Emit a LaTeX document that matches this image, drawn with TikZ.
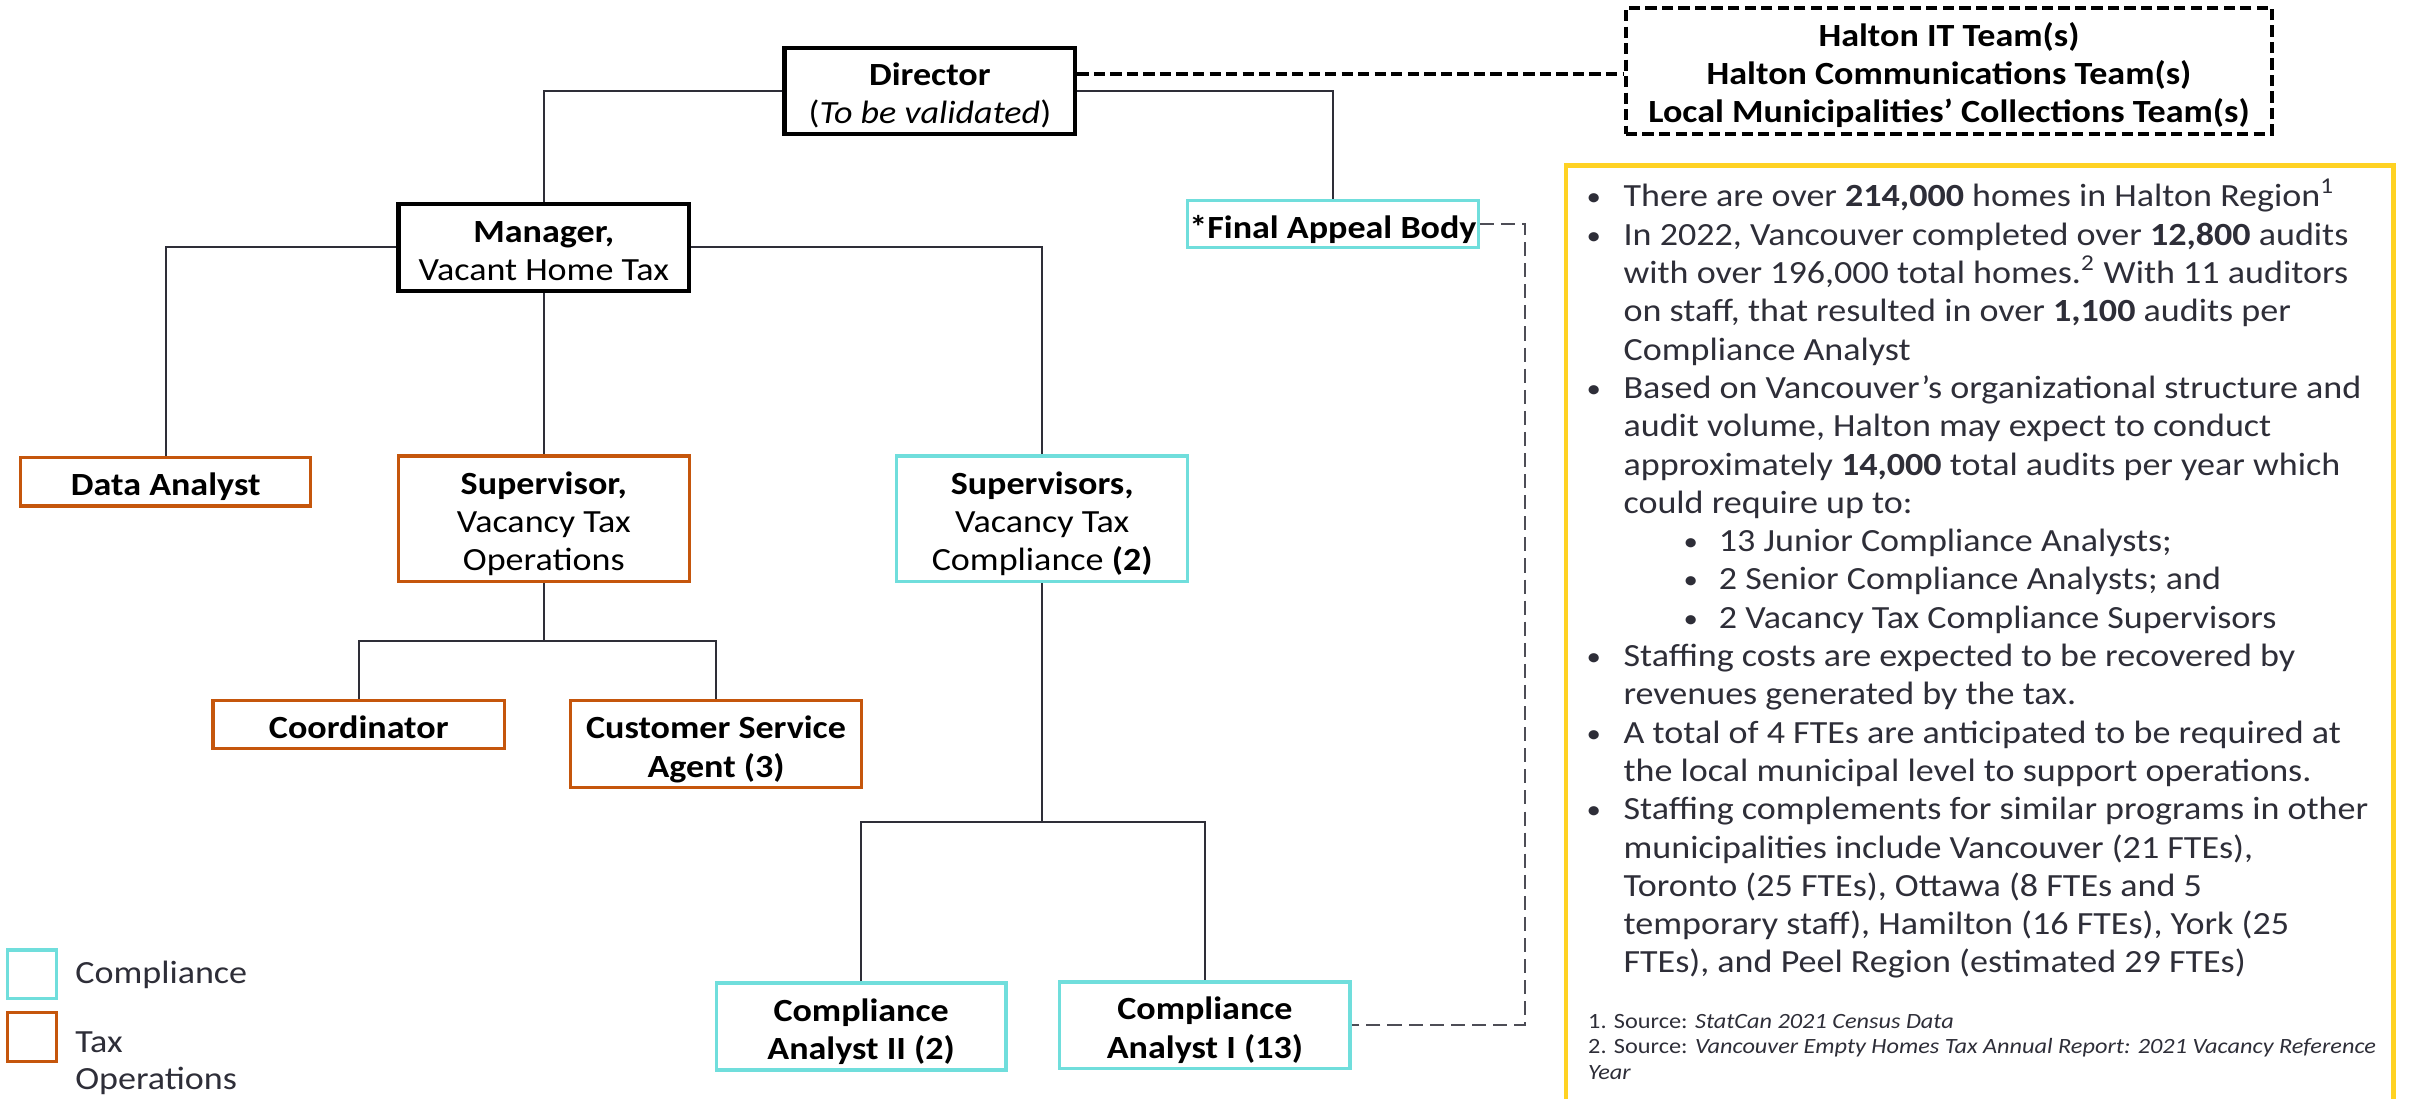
\documentclass[tikz,border=0pt]{standalone}
\usepackage{fontspec}
\usepackage{graphicx}
\setmainfont[FakeStretch=1.115]{Carlito}
\usetikzlibrary{calc}
\definecolor{cyanb}{RGB}{112,222,220}
\definecolor{orangeb}{RGB}{197,86,12}
\definecolor{yellowb}{RGB}{255,210,35}
\definecolor{txt}{RGB}{46,46,56}
\definecolor{connc}{RGB}{46,46,56}
\newdimen\uu \uu=0.15383mm
\newcommand{\bodyfont}{\fontsize{9.2}{10.9}\selectfont}
\newcommand{\notefont}{\fontsize{6.2}{8}\selectfont}
\newcommand{\bx}[1]{\raisebox{-4pt}[0pt][0pt]{\begin{tabular}{@{}c@{}}#1\end{tabular}}}
\newcommand{\bul}{\raisebox{0.3pt}{\scalebox{0.8}{•}}}
\begin{document}
\begin{tikzpicture}[x=0.15383mm, y=-0.15383mm,
  box/.style={draw, line width=0.9pt, inner sep=0pt, font=\bodyfont, text=black, fill=white},
  blackbox/.style={box, draw=black, line width=1.2pt},
  cbox/.style={box, draw=cyanb},
  obox/.style={box, draw=orangeb},
  connline/.style={draw=connc, line width=0.5pt},
  thickdash/.style={draw=black, line width=1.1pt, dash pattern=on 3.2pt off 1.5pt},
  thindash/.style={draw=connc!85, line width=0.5pt, dash pattern=on 4pt off 2pt},
  bl/.style={anchor=base west, inner sep=0pt, font=\bodyfont, text=txt},
  nl/.style={anchor=base west, inner sep=0pt, font=\notefont, text=txt},
]
\useasboundingbox (0,0) rectangle (1568,714);

% ---- boxes ----
\node[blackbox, minimum width=189\uu, minimum height=56\uu] (dir) at (604.5,59)
  {\bx{\textbf{Director}\\(\textit{To be validated})}};
\node[box, thickdash, minimum width=420\uu, minimum height=82\uu] (hal) at (1267,46)
  {\bx{\textbf{Halton IT Team(s)}\\\textbf{Halton Communications Team(s)}\\\textbf{Local Municipalities’ Collections Team(s)}}};
\node[cbox, minimum width=189\uu, minimum height=30.5\uu] (fab) at (866.5,145.75)
  {\bx{\textbf{*Final Appeal Body}}};
\node[blackbox, minimum width=189\uu, minimum height=56.4\uu] (mgr) at (353.5,160.8)
  {\bx{\textbf{Manager,}\\Vacant Home Tax}};
\node[obox, minimum width=188.6\uu, minimum height=31.5\uu] (da) at (107.7,313.2)
  {\bx{\textbf{Data Analyst}}};
\node[obox, minimum width=189\uu, minimum height=81.6\uu] (sops) at (353.5,337.2)
  {\bx{\textbf{Supervisor,}\\Vacancy Tax\\Operations}};
\node[cbox, minimum width=189\uu, minimum height=81.6\uu] (scomp) at (677.5,337.2)
  {\bx{\textbf{Supervisors,}\\Vacancy Tax\\Compliance \textbf{(2)}}};
\node[obox, minimum width=189.5\uu, minimum height=31.2\uu] (coord) at (233.2,471)
  {\bx{\textbf{Coordinator}}};
\node[obox, minimum width=189\uu, minimum height=56.5\uu] (csa) at (465.5,483.7)
  {\bx{\textbf{Customer Service}\\\textbf{Agent (3)}}};
\node[cbox, minimum width=188.4\uu, minimum height=56.6\uu] (ca2) at (559.8,667.3)
  {\bx{\textbf{Compliance}\\\textbf{Analyst II (2)}}};
\node[cbox, minimum width=188.7\uu, minimum height=56.3\uu] (ca1) at (783.3,666.5)
  {\bx{\textbf{Compliance}\\\textbf{Analyst I (13)}}};

% ---- connectors ----
\draw[connline] (dir.west) -| (mgr.north);
\draw[connline] (dir.east) -| (fab.north);
\coordinate (d1) at ($(dir.east)+(0,-11)$);
\draw[thickdash] (d1) -- (d1 -| hal.west);
\draw[connline] (mgr.west) -| (da.north);
\draw[connline] (mgr.east) -| (scomp.north);
\draw[connline] (mgr.south) -- (sops.north);
\coordinate (b1) at (353.5,416.7);
\draw[connline] (sops.south) -- (b1);
\draw[connline] (coord.north) |- (b1) -| (csa.north);
\coordinate (b2) at (677.5,534.3);
\draw[connline] (scomp.south) -- (b2);
\draw[connline] (ca2.north) |- (b2) -| (ca1.north);
\coordinate (dv) at (991.5,0);
\draw[thindash] (fab.east) -- (fab.east -| dv) |- (ca1.east);

% ---- legend ----
\draw[draw=cyanb, line width=0.9pt] (5,617.6) rectangle (37,649);
\draw[draw=orangeb, line width=0.9pt] (5,658) rectangle (37,690);
\node[bl] (lg1) at (48.5,639.5) {Compliance};
\node[bl] (lg2) at (48.5,684) {Tax};
\node[bl] (lg3) at (48.5,708) {Operations};

% ---- info panel ----
\draw[draw=yellowb, line width=1.3pt] (1018,725) -- (1018,107.5) -- (1556,107.5) -- (1556,725);

\node[bl] (bu1) at (1031,134.5) {\bul};
\node[bl] (t1) at (1055,134.5) {There are over \textbf{214,000} homes in Halton Region\textsuperscript{1}};
\node[bl] (bu2) at (1031,159.4) {\bul};
\node[bl] (t2) at (1055,159.4) {In 2022, Vancouver completed over \textbf{12,800} audits};
\node[bl] (t3) at (1055,184.3) {with over 196,000 total homes.\textsuperscript{2} With 11 auditors};
\node[bl] (t4) at (1055,209.2) {on staff, that resulted in over \textbf{1,100} audits per};
\node[bl] (t5) at (1055,234.1) {Compliance Analyst};
\node[bl] (bu3) at (1031,259) {\bul};
\node[bl] (t6) at (1055,259) {Based on Vancouver’s organizational structure and};
\node[bl] (t7) at (1055,283.9) {audit volume, Halton may expect to conduct};
\node[bl] (t8) at (1055,308.8) {approximately \textbf{14,000} total audits per year which};
\node[bl] (t9) at (1055,333.7) {could require up to:};
\node[bl] (bu4) at (1094,358.6) {\bul};
\node[bl] (t10) at (1117,358.6) {13 Junior Compliance Analysts;};
\node[bl] (bu5) at (1094,383.5) {\bul};
\node[bl] (t11) at (1117,383.5) {2 Senior Compliance Analysts; and};
\node[bl] (bu6) at (1094,408.4) {\bul};
\node[bl] (t12) at (1117,408.4) {2 Vacancy Tax Compliance Supervisors};
\node[bl] (bu7) at (1031,433.3) {\bul};
\node[bl] (t13) at (1055,433.3) {Staffing costs are expected to be recovered by};
\node[bl] (t14) at (1055,458.2) {revenues generated by the tax.};
\node[bl] (bu8) at (1031,483.1) {\bul};
\node[bl] (t15) at (1055,483.1) {A total of 4 FTEs are anticipated to be required at};
\node[bl] (t16) at (1055,508) {the local municipal level to support operations.};
\node[bl] (bu9) at (1031,532.9) {\bul};
\node[bl] (t17) at (1055,532.9) {Staffing complements for similar programs in other};
\node[bl] (t18) at (1055,557.8) {municipalities include Vancouver (21 FTEs),};
\node[bl] (t19) at (1055,582.7) {Toronto (25 FTEs), Ottawa (8 FTEs and 5};
\node[bl] (t20) at (1055,607.6) {temporary staff), Hamilton (16 FTEs), York (25};
\node[bl] (t21) at (1055,632.5) {FTEs), and Peel Region (estimated 29 FTEs)};

\node[nl] (n1) at (1032,668.5) {1. Source: \textit{StatCan 2021 Census Data}};
\node[nl] (n2) at (1032,685) {2. Source: \textit{Vancouver Empty Homes Tax Annual Report: 2021 Vacancy Reference}};
\node[nl] (n3) at (1032,701.5) {\textit{Year}};
\end{tikzpicture}
\end{document}
